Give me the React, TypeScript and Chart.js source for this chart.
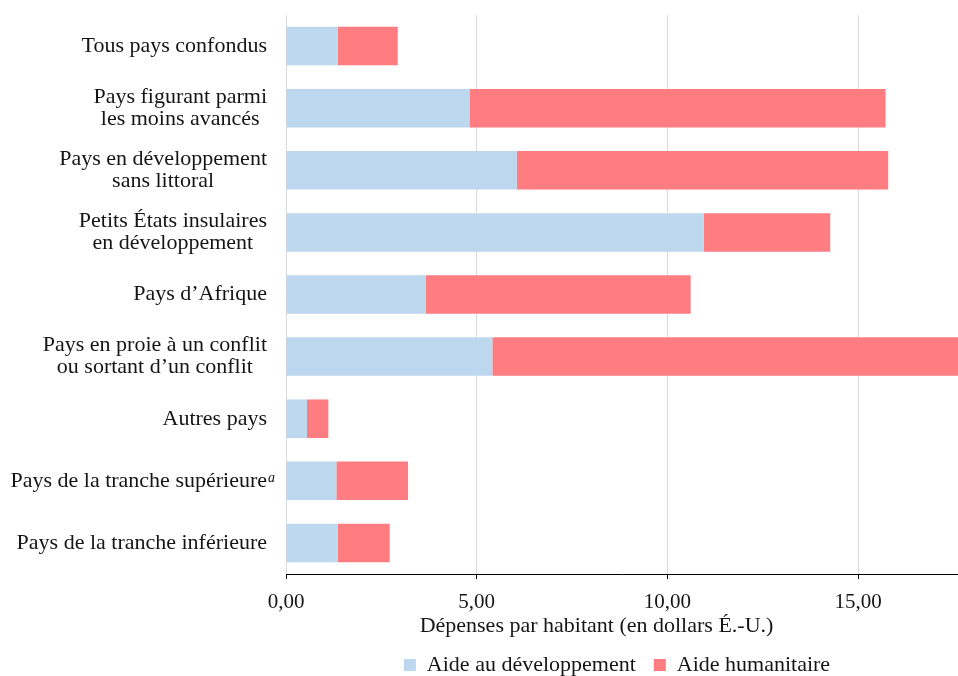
import React, { useEffect, useRef } from "react";
import { Chart, registerables } from "chart.js";

Chart.register(...registerables);

// ---- data ----
const categories: string[][] = [
  ["Tous pays confondus"],
  ["Pays figurant parmi", "les moins avancés"],
  ["Pays en développement", "sans littoral"],
  ["Petits États insulaires", "en développement"],
  ["Pays d’Afrique"],
  ["Pays en proie à un conflit", "ou sortant d’un conflit"],
  ["Autres pays"],
  ["Pays de la tranche supérieure"],
  ["Pays de la tranche inférieure"],
];
const footnoteMarks: string[] = ["", "", "", "", "", "", "", "a", ""];
const aideDeveloppement: number[] = [1.36, 4.81, 6.05, 10.95, 3.67, 5.41, 0.55, 1.32, 1.36];
const aideHumanitaire: number[] = [1.57, 10.91, 9.74, 3.32, 6.94, 13.0, 0.56, 1.88, 1.36];
const xTickValues: number[] = [0, 5, 10, 15];
const xMax = 17.62;
const xTitle = "Dépenses par habitant (en dollars É.-U.)";
const seriesNames: string[] = ["Aide au développement", "Aide humanitaire"];

const FONT = "'Liberation Serif', 'Times New Roman', serif";
const TEXT = "#151515";

const labelsPlugin = {
  id: "customLabels",
  afterDraw(chart: any) {
    const ctx = chart.ctx;
    const y = chart.scales.y;
    const area = chart.chartArea;
    const right = area.left - 19;
    const lh = 22;
    ctx.save();
    ctx.fillStyle = TEXT;
    ctx.font = `22px ${FONT}`;
    categories.forEach((lines, i) => {
      const cy = y.getPixelForTick(i);
      const widths = lines.map((l) => ctx.measureText(l).width);
      const w = Math.max(...widths);
      const cx = right - w / 2;
      ctx.textAlign = "center";
      ctx.textBaseline = "middle";
      const y0 = cy - ((lines.length - 1) * lh) / 2;
      lines.forEach((l, k) => ctx.fillText(l, cx, y0 + k * lh));
      if (footnoteMarks[i]) {
        ctx.save();
        ctx.font = `italic 14px ${FONT}`;
        ctx.textAlign = "left";
        ctx.textBaseline = "alphabetic";
        ctx.fillText(footnoteMarks[i], right + 1, cy + 1);
        ctx.restore();
      }
    });
    // axis title
    ctx.font = `22px ${FONT}`;
    ctx.textAlign = "center";
    ctx.textBaseline = "alphabetic";
    ctx.fillText(xTitle, area.left + 310.5, area.bottom + 58);
    ctx.restore();
  },
};

export default function App() {
  const ref = useRef<HTMLCanvasElement | null>(null);
  useEffect(() => {
    if (!ref.current) return;
    const chart = new Chart(ref.current, {
      type: "bar",
      data: {
        labels: categories.map((c) => c.join(" ")),
        datasets: [
          {
            label: seriesNames[0],
            data: aideDeveloppement,
            backgroundColor: "#BDD7EE",
            borderWidth: 0,
            barPercentage: 0.62,
            categoryPercentage: 1,
          },
          {
            label: seriesNames[1],
            data: aideHumanitaire,
            backgroundColor: "#FF7C80",
            borderWidth: 0,
            barPercentage: 0.62,
            categoryPercentage: 1,
          },
        ],
      },
      options: {
        indexAxis: "y",
        responsive: false,
        animation: false,
        devicePixelRatio: 1,
        layout: { padding: { left: 276, top: 15, right: 0, bottom: 0 } },
        plugins: {
          tooltip: { enabled: false },
          title: { display: false },
          legend: {
            position: "bottom",
            labels: {
              boxWidth: 12,
              boxHeight: 12,
              padding: 18,
              color: TEXT,
              font: { family: FONT, size: 22 },
            },
          },
        },
        scales: {
          x: {
            stacked: true,
            min: 0,
            max: xMax,
            afterBuildTicks: (s: any) => {
              s.ticks = xTickValues.map((v) => ({ value: v }));
            },
            afterFit: (s: any) => {
              s.height = 62;
            },
            ticks: {
              autoSkip: false,
              maxRotation: 0,
              padding: 11,
              color: TEXT,
              font: { family: FONT, size: 21 },
              callback: (v: any) => Number(v).toFixed(2).replace(".", ","),
            },
            grid: {
              color: "#d9d9d9",
              lineWidth: 1,
              tickColor: "#000",
              tickLength: 5,
              drawTicks: true,
            },
            border: { display: true, color: "#000", width: 1 },
          },
          y: {
            stacked: true,
            grid: { display: false },
            border: { display: false },
            ticks: { display: false },
            afterFit: (s: any) => {
              s.width = 10;
            },
          },
        },
      },
      plugins: [labelsPlugin],
    } as any);
    return () => chart.destroy();
  }, []);
  return (
    <div
      style={{
        position: "fixed",
        left: 0,
        top: 0,
        width: 958,
        height: 676,
        overflow: "hidden",
        background: "#fff",
      }}
    >
      <canvas ref={ref} width={958} height={686} style={{ display: "block" }} />
    </div>
  );
}
